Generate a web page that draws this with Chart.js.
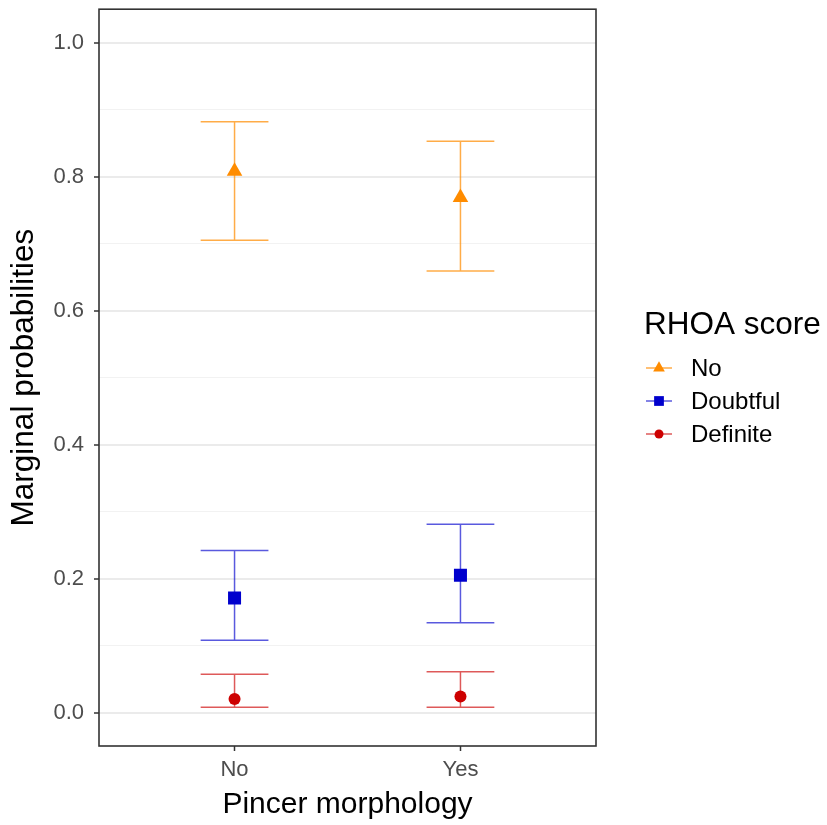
<!DOCTYPE html>
<html>
<head>
<meta charset="utf-8">
<script src="https://cdn.jsdelivr.net/npm/chart.js@4"></script>
<style>
  html, body { margin: 0; padding: 0; background: #ffffff; }
  #wrap { width: 827px; height: 825px; }
</style>
</head>
<body>
<div id="wrap"><canvas id="marginChart" width="827" height="825"></canvas></div>
<script>
// ===== DATA =====
const categories = ['No', 'Yes'];            // Pincer morphology
const rhoaLevels = ['No', 'Doubtful', 'Definite'];

const probNo = [0.808, 0.769];
const lowerNo = [0.705, 0.659];
const upperNo = [0.882, 0.853];

const probDoubtful = [0.171, 0.205];
const lowerDoubtful = [0.108, 0.134];
const upperDoubtful = [0.242, 0.281];

const probDefinite = [0.020, 0.024];
const lowerDefinite = [0.008, 0.008];
const upperDefinite = [0.057, 0.061];

const yTicks = [0, 0.1, 0.2, 0.3, 0.4, 0.5, 0.6, 0.7, 0.8, 0.9, 1.0];

// ===== STYLE =====
const FONT = "'Liberation Sans', Arial, sans-serif";
const series = [
    { label: rhoaLevels[0], prob: probNo, lower: lowerNo, upper: upperNo,
      color: '#FF8C00', line: 'rgba(255, 140, 0, 0.72)', style: 'triangle', radius: 9 },
    { label: rhoaLevels[1], prob: probDoubtful, lower: lowerDoubtful, upper: upperDoubtful,
      color: '#0000CD', line: 'rgba(0, 0, 205, 0.65)', style: 'rect', radius: 9.2 },
    { label: rhoaLevels[2], prob: probDefinite, lower: lowerDefinite, upper: upperDefinite,
      color: '#CD0000', line: 'rgba(205, 0, 0, 0.65)', style: 'circle', radius: 6 }
];

const isMajor = v => Math.abs(Math.round(v * 10) % 2) === 0;

// Error bars drawn from the data through the scales
const errorBarPlugin = {
    id: 'errorBars',
    beforeDatasetsDraw(chart) {
        const ctx = chart.ctx;
        const xs = chart.scales.x;
        const ys = chart.scales.y;
        const capHalf = 0.15;
        ctx.save();
        ctx.lineWidth = 1.5;
        series.forEach(s => {
            ctx.strokeStyle = s.line;
            s.prob.forEach((p, i) => {
                const xv = i + 1;
                const x = xs.getPixelForValue(xv);
                const x0 = xs.getPixelForValue(xv - capHalf);
                const x1 = xs.getPixelForValue(xv + capHalf);
                const yl = ys.getPixelForValue(s.lower[i]);
                const yu = ys.getPixelForValue(s.upper[i]);
                ctx.beginPath();
                ctx.moveTo(x, yl); ctx.lineTo(x, yu);
                ctx.moveTo(x0, yl); ctx.lineTo(x1, yl);
                ctx.moveTo(x0, yu); ctx.lineTo(x1, yu);
                ctx.stroke();
            });
        });
        ctx.restore();
    }
};

// Panel border + legend
const panelPlugin = {
    id: 'panel',
    afterDraw(chart) {
        const ctx = chart.ctx;
        const a = chart.chartArea;
        ctx.save();
        ctx.strokeStyle = '#333333';
        ctx.lineWidth = 1.6;
        ctx.strokeRect(a.left, a.top, a.right - a.left, a.bottom - a.top);

        // legend
        ctx.fillStyle = '#000000';
        ctx.textBaseline = 'middle';
        ctx.textAlign = 'left';
        ctx.font = '31.5px ' + FONT;
        ctx.fillText('RHOA score', 644, 325);
        ctx.font = '24px ' + FONT;
        const rowY = [368, 401, 434];
        series.forEach((s, k) => {
            const y = rowY[k];
            ctx.strokeStyle = s.line;
            ctx.lineWidth = 1.5;
            ctx.beginPath();
            ctx.moveTo(646, y); ctx.lineTo(672, y);
            ctx.stroke();
            ctx.fillStyle = s.color;
            Chart.helpers.drawPoint(ctx, {
                pointStyle: s.style, radius: s.radius * 0.75, rotation: 0, borderWidth: 0
            }, 659, y);
            ctx.fillStyle = '#000000';
            ctx.fillText(s.label, 691, y + 1);
        });
        ctx.restore();
    }
};

// ===== CHART =====
const datasets = series.map(s => ({
    label: s.label,
    data: s.prob.map((p, i) => ({ x: i + 1, y: p })),
    pointStyle: s.style,
    pointRadius: s.radius,
    backgroundColor: s.color,
    borderColor: s.color,
    borderWidth: 0,
    showLine: false
}));

new Chart(document.getElementById('marginChart'), {
    type: 'scatter',
    data: { datasets: datasets },
    options: {
        responsive: false,
        animation: false,
        layout: { padding: { left: 0, right: 231, top: 7, bottom: 0 } },
        plugins: {
            legend: { display: false },
            tooltip: { enabled: false }
        },
        scales: {
            x: {
                type: 'linear',
                min: 0.4,
                max: 2.6,
                afterBuildTicks(scale) {
                    scale.ticks = categories.map((c, i) => ({ value: i + 1 }));
                },
                afterFit(scale) {
                    scale.height = 79;
                    scale.paddingLeft = 0;
                    scale.paddingRight = 0;
                },
                ticks: {
                    callback: v => categories[Math.round(v) - 1],
                    color: '#4D4D4D',
                    font: { family: FONT, size: 22 },
                    padding: 6,
                    maxRotation: 0
                },
                grid: {
                    drawOnChartArea: false,
                    drawTicks: true,
                    tickLength: 5,
                    tickColor: '#333333',
                    tickWidth: 1.5
                },
                border: { display: false },
                title: {
                    display: true,
                    text: 'Pincer morphology',
                    color: '#000000',
                    font: { family: FONT, size: 30 },
                    padding: { top: 0, bottom: 2 }
                }
            },
            y: {
                type: 'linear',
                min: -0.05,
                max: 1.05,
                afterBuildTicks(scale) {
                    scale.ticks = yTicks.map(v => ({ value: v }));
                },
                afterFit(scale) {
                    scale.width = 99;
                    scale.paddingTop = 0;
                    scale.paddingBottom = 0;
                },
                ticks: {
                    callback: v => isMajor(v) ? v.toFixed(1) : '',
                    color: '#4D4D4D',
                    font: { family: FONT, size: 22 },
                    padding: 10,
                    autoSkip: false
                },
                grid: {
                    color: ctx => isMajor(ctx.tick.value) ? '#EBEBEB' : '#F2F2F2',
                    lineWidth: ctx => isMajor(ctx.tick.value) ? 2 : 1,
                    drawTicks: true,
                    tickLength: 5,
                    tickColor: ctx => isMajor(ctx.tick.value) ? '#333333' : 'rgba(0,0,0,0)',
                    tickWidth: 1.5
                },
                border: { display: false },
                title: {
                    display: true,
                    text: 'Marginal probabilities',
                    color: '#000000',
                    font: { family: FONT, size: 31.5 },
                    padding: { top: 5, bottom: 0 }
                }
            }
        }
    },
    plugins: [errorBarPlugin, panelPlugin]
});
</script>
</body>
</html>
